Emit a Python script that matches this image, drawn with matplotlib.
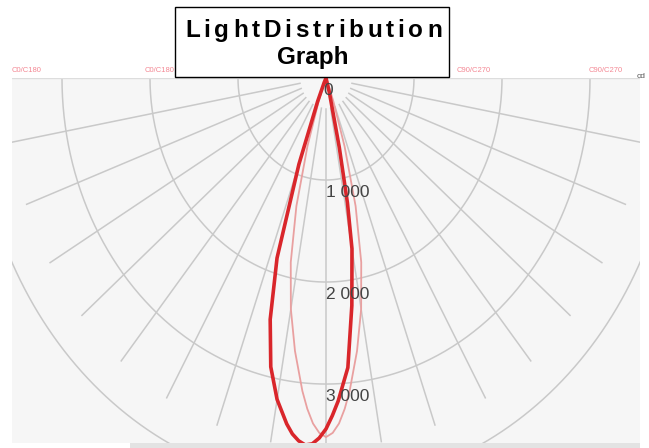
import numpy as np
import matplotlib
matplotlib.use("Agg")
from matplotlib import pyplot as plt
from matplotlib.patches import Rectangle

plt.rcParams["font.family"] = ["Liberation Sans", "DejaVu Sans"]

# luminous intensity (cd) against gamma angle in degrees, negative = left half
c0_angles = [-30, -25, -22.5, -20, -17.5, -15, -12.5, -10, -7.5, -6.25, -5, -3.75, -2.5, -1.25, 0,
             1.25, 2.5, 5, 7.5, 10, 11.25, 12.5, 15, 20]
c0_cd = [0, 50, 250, 900, 1850, 2450, 2900, 3200, 3420, 3510, 3570, 3605, 3590, 3530, 3440,
         3310, 3170, 2850, 2250, 1700, 1250, 700, 150, 0]
c90_angles = [-25, -22.5, -20, -17.5, -15, -12.5, -10, -7.5, -5, -3.75, -2.5, -1.25, 0,
              1.25, 2.5, 3.75, 5, 7.5, 10, 12.5, 15, 17.5, 20, 22.5, 25]
c90_cd = [0, 60, 250, 700, 1300, 1850, 2300, 2700, 3080, 3250, 3390, 3480, 3520,
          3480, 3390, 3250, 3080, 2700, 2300, 1850, 1300, 700, 250, 60, 0]

ring_values = [1000, 2000, 3000, 4000]
ring_labels = ["0", "1 000", "2 000", "3 000"]
label_values = [0, 1000, 2000, 3000]
ray_angles = list(range(-90, 91, 10))
top_labels = ["C0/C180", "C0/C180", "C90/C270", "C90/C270"]
title_top = "LightDistribution"
title_bottom = "Graph"

W, H = 649, 448


def to_xy(angles, cd):
    a = np.radians(angles)
    r = np.asarray(cd, dtype=float) / 1000.0
    return r * np.sin(a), -r * np.cos(a)


fig = plt.figure(figsize=(W / 100, H / 100), dpi=100)
fig.patch.set_facecolor("white")

ax = fig.add_axes([12 / W, 1 - 443 / H, 628 / W, 365 / H])
ax.set_facecolor("#f6f6f6")
ax.set_xlim(-3.568, 3.568)
ax.set_ylim(-3.578, 0)
for s in ax.spines.values():
    s.set_visible(False)
ax.set_xticks([])
ax.set_yticks([])

grid_col = "#c9c9c9"
t = np.radians(np.linspace(-90, 90, 400))
for rv in ring_values:
    r = rv / 1000.0
    ax.plot(r * np.sin(t), -r * np.cos(t), color=grid_col, lw=1.1, zorder=1)
for ang in ray_angles:
    a = np.radians(ang)
    ax.plot([0.3 * np.sin(a), 3.62 * np.sin(a)], [-0.3 * np.cos(a), -3.62 * np.cos(a)],
            color=grid_col, lw=1.1, zorder=1)
ax.axhline(0, color="#dddddd", lw=1.0, zorder=1)

x90, y90 = to_xy(c90_angles, c90_cd)
ax.plot(x90, y90, color="#e9a0a0", lw=1.3, zorder=3, solid_joinstyle="round")
x0, y0 = to_xy(c0_angles, c0_cd)
ax.plot(x0, y0, color="#d9262b", lw=2.6, zorder=4, solid_joinstyle="round")

for val, lab in zip(label_values, ring_labels):
    if val == 0:
        ax.text(0.02, -0.12, lab, fontsize=12.5, color="#444444",
                ha="center", va="center", zorder=5)
    else:
        ax.text(0.0, -val / 1000.0 - 0.12, lab, fontsize=12.5, color="#444444",
                ha="left", va="center", zorder=5)

# bottom strip
fig.add_artist(Rectangle((130 / W, 0), 510 / W, 5 / H, transform=fig.transFigure,
                         facecolor="#e3e3e3", edgecolor="none"))

# red plane labels along the top
for xp, lab in zip([27, 160, 474, 606], top_labels):
    fig.text(xp / W, 1 - 70 / H, lab, fontsize=5.5, color="#f06070", alpha=0.75,
             ha="center", va="center")
fig.text(641 / W, 1 - 76 / H, "cd", fontsize=6, color="#555555", ha="center", va="center")

# title box
fig.add_artist(Rectangle((175 / W, 1 - 77 / H), 274 / W, 70 / H, transform=fig.transFigure,
                         facecolor="white", edgecolor="black", lw=1.0, zorder=10))

fs = 17.5
fig.canvas.draw()
rend = fig.canvas.get_renderer()
widths = []
for ch in title_top:
    tt = fig.text(0, 0, ch, fontsize=fs, fontweight="bold")
    widths.append(tt.get_window_extent(rend).width)
    tt.remove()
span = 257
gap = (span - sum(widths)) / (len(title_top) - 1)
xpos = 185
for ch, w in zip(title_top, widths):
    fig.text(xpos / W, 1 - 37 / H, ch, fontsize=fs, fontweight="bold", color="black",
             ha="left", va="baseline", zorder=11)
    xpos += w + gap
fig.text(313 / W, 1 - 64 / H, title_bottom, fontsize=fs, fontweight="bold", color="black",
         ha="center", va="baseline", zorder=11)

fig.savefig("out.png", dpi=100)
